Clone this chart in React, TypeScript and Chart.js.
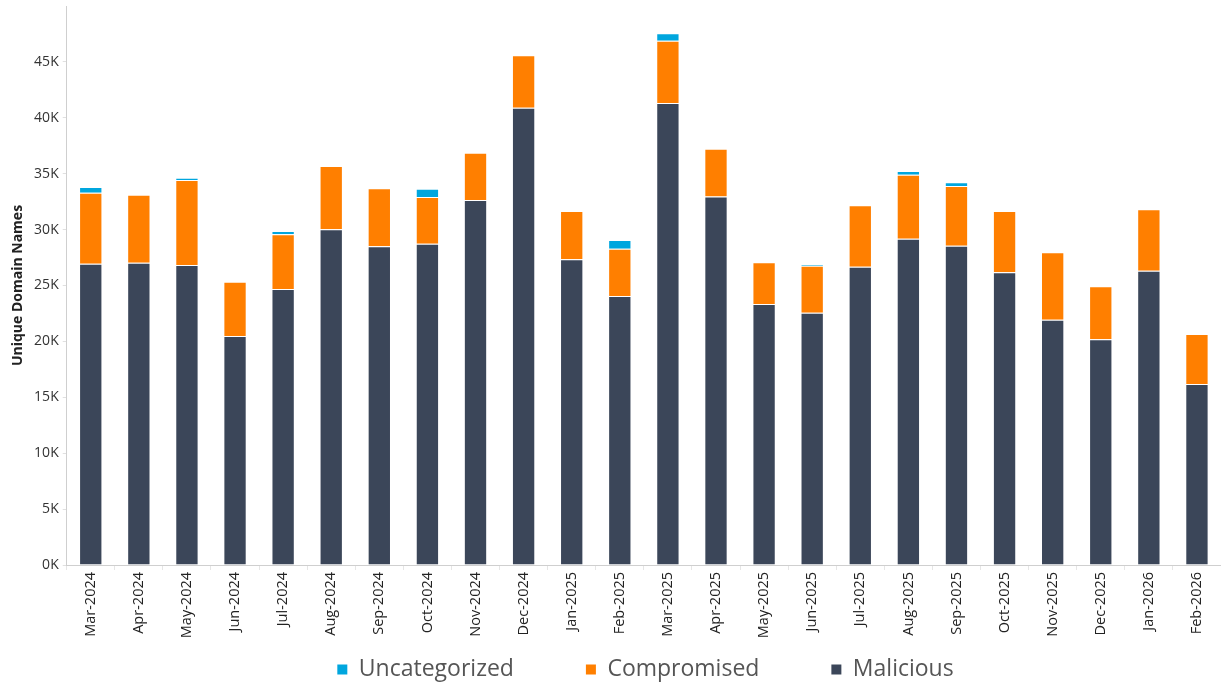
import React, { useEffect, useRef } from "react";
import { Chart, registerables } from "chart.js";

Chart.register(...registerables);

const months = [
  "Mar-2024", "Apr-2024", "May-2024", "Jun-2024", "Jul-2024", "Aug-2024",
  "Sep-2024", "Oct-2024", "Nov-2024", "Dec-2024", "Jan-2025", "Feb-2025",
  "Mar-2025", "Apr-2025", "May-2025", "Jun-2025", "Jul-2025", "Aug-2025",
  "Sep-2025", "Oct-2025", "Nov-2025", "Dec-2025", "Jan-2026", "Feb-2026",
];

const malicious = [
  26950, 27040, 26830, 20480, 24690, 30030, 28500, 28740, 32650, 40900, 27340, 24060,
  41320, 32950, 23350, 22560, 26680, 29190, 28560, 26180, 21940, 20190, 26330, 16190,
];

const compromised = [
  6350, 6080, 7610, 4860, 4890, 5660, 5190, 4180, 4230, 4690, 4320, 4230,
  5580, 4290, 3720, 4210, 5490, 5720, 5340, 5480, 6030, 4740, 5480, 4470,
];

const uncategorized = [
  500, 0, 200, 0, 290, 0, 0, 740, 0, 0, 0, 780,
  660, 0, 0, 130, 0, 330, 330, 0, 0, 0, 0, 0,
];

const yTicks = [0, 5000, 10000, 15000, 20000, 25000, 30000, 35000, 40000, 45000];

const COLORS = {
  malicious: "#3b4659",
  compromised: "#ff7f00",
  uncategorized: "#00a6de",
};

const legendShift = {
  id: "legendShift",
  afterLayout(chart: any) {
    const l = chart.legend;
    if (!l) return;
    l.top = 586;
    l.bottom = chart.height;
    l.height = l.bottom - l.top;
    l.left = 35;
    l.right = chart.width + 35;
    l.width = l.right - l.left;
  },
};

export default function App() {
  const ref = useRef<HTMLCanvasElement | null>(null);

  useEffect(() => {
    document.body.style.margin = "0";
    document.body.style.overflow = "hidden";
    if (!ref.current) return;
    const bw = (ctx: any) => (ctx.raw ? 1 : 0);
    const chart = new Chart(ref.current, {
      type: "bar",
      data: {
        labels: months,
        datasets: [
          {
            label: "Malicious",
            data: malicious,
            backgroundColor: COLORS.malicious,
            borderColor: "rgba(255,255,255,0.7)",
            borderWidth: bw,
          },
          {
            label: "Compromised",
            data: compromised,
            backgroundColor: COLORS.compromised,
            borderColor: "rgba(255,255,255,0.7)",
            borderWidth: bw,
          },
          {
            label: "Uncategorized",
            data: uncategorized,
            backgroundColor: COLORS.uncategorized,
            borderColor: "rgba(255,255,255,0.7)",
            borderWidth: bw,
          },
        ],
      },
      plugins: [legendShift],
      options: {
        responsive: false,
        animation: false,
        maintainAspectRatio: false,
        layout: { padding: { top: 6, left: 0, right: 0, bottom: 0 } },
        datasets: {
          bar: { barPercentage: 0.485, categoryPercentage: 1 },
        },
        plugins: {
          tooltip: { enabled: false },
          legend: {
            position: "bottom",
            reverse: true,
            maxHeight: 42,
            labels: {
              boxWidth: 10,
              boxHeight: 10,
              padding: 72,
              color: "#555555",
              font: { family: "'Open Sans', sans-serif", size: 23 },
              generateLabels: (c: any) =>
                (Chart.defaults.plugins.legend.labels.generateLabels as any)(c).map((l: any) => ({
                  ...l,
                  lineWidth: 0,
                  strokeStyle: "transparent",
                })),
            },
          } as any,
        },
        scales: {
          x: {
            stacked: true,
            afterFit: (scale: any) => {
              scale.height = 78;
              scale.paddingLeft = 0;
              scale.paddingRight = 0;
            },
            grid: {
              drawOnChartArea: false,
              drawTicks: true,
              tickLength: 5,
              color: "#e6e6e6",
            },
            border: { display: true, color: "#cfcfcf", width: 1 },
            ticks: {
              maxRotation: 90,
              minRotation: 90,
              autoSkip: false,
              padding: 2,
              color: "#222222",
              font: { family: "'Open Sans', sans-serif", size: 14.5 },
            },
          },
          y: {
            stacked: true,
            min: 0,
            max: 50000,
            afterFit: (scale: any) => {
              scale.width = 66.7;
              scale.paddingTop = 0;
              scale.paddingBottom = 0;
            },
            afterBuildTicks: (scale: any) => {
              scale.ticks = yTicks.map((v) => ({ value: v }));
            },
            grid: {
              drawOnChartArea: false,
              drawTicks: true,
              tickLength: 4,
              color: "#e0e0e0",
            },
            border: { display: true, color: "#cfcfcf", width: 1 },
            ticks: {
              padding: 4,
              color: "#333333",
              font: { family: "'Open Sans', sans-serif", size: 14 },
              callback: (v: any) => `${Number(v) / 1000}K`,
            },
            title: {
              display: true,
              text: "Unique Domain Names",
              color: "#222222",
              padding: { top: 10, bottom: 0 },
              font: { family: "'Open Sans', sans-serif", size: 14, weight: "bold" },
            },
          },
        },
      },
    });
    return () => chart.destroy();
  }, []);

  return (
    <div style={{ width: 1221, height: 685, position: "relative" }}>
      <canvas ref={ref} width={1221} height={685} style={{ display: "block" }} />
    </div>
  );
}
